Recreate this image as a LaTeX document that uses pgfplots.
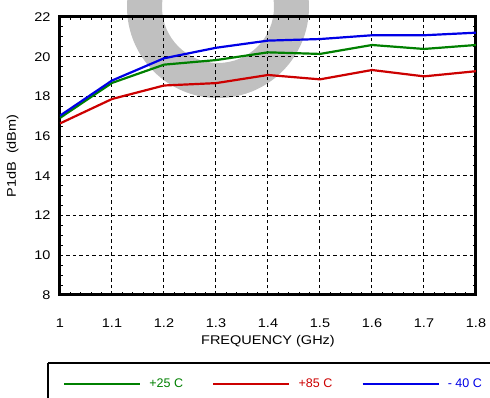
\documentclass[border=0pt]{standalone}
\usepackage{pgfplots}
\pgfplotsset{compat=1.18}
\usepackage{fontspec}
\setmainfont{Liberation Sans}
\newfontfamily\axfont{Liberation Sans}[FakeStretch=1.15]
\definecolor{cg}{RGB}{0,128,0}
\definecolor{cr}{RGB}{204,0,0}
\definecolor{cb}{RGB}{0,0,230}
\definecolor{wm}{RGB}{192,192,192}
\begin{document}
\begin{tikzpicture}[x=1pt,y=1pt]
\fill[wm, even odd rule] (218,391) circle[radius=91] (218,391) circle[radius=56];
\begin{axis}[
 at={(60pt,103pt)}, anchor=south west,
 scale only axis, width=416pt, height=278pt,
 xmin=1, xmax=1.8, ymin=8, ymax=22,
 xtick={1,1.1,1.2,1.3,1.4,1.5,1.6,1.7,1.8},
 ytick={8,10,12,14,16,18,20,22},
 minor x tick num=4, minor y tick num=3,
 grid=major,
 major grid style={black, line width=1pt, dash pattern=on 3.5pt off 3pt},
 axis line style={line width=3pt},
 tick style={black, line width=1pt},
 minor tick length=3pt, major tick length=0pt,
 tick align=inside,
 font=\axfont\fontsize{12.6}{15}\selectfont,
 /pgf/number format/assume math mode=true,
 xticklabel style={yshift=-20pt},
 yticklabel style={xshift=-6pt},
 xlabel={FREQUENCY (GHz)}, ylabel={P1dB\ \ (dBm)},
 xlabel style={yshift=-1pt},
 ylabel style={yshift=9pt},
 legend columns=3,
 legend style={at={(0.0072,-0.3201)}, anchor=west, draw=none, fill=none,
   inner sep=0pt, column sep=8pt, nodes={inner sep=0pt},
   font=\fontsize{12.5}{15}\selectfont},
 legend image code/.code={\draw[#1] (0pt,0pt) -- (76pt,0pt);},
]
\addplot[cg, line width=2.2pt] coordinates {(1,16.92)(1.1,18.68)(1.2,19.6)(1.3,19.83)(1.4,20.22)(1.5,20.14)(1.6,20.59)(1.7,20.39)(1.8,20.59)};
\addlegendentry{\textcolor{cg}{\makebox[55pt][l]{+25 C}}}
\addplot[cr, line width=2.2pt] coordinates {(1,16.64)(1.1,17.87)(1.2,18.55)(1.3,18.67)(1.4,19.08)(1.5,18.86)(1.6,19.33)(1.7,19.01)(1.8,19.27)};
\addlegendentry{\textcolor{cr}{\makebox[55pt][l]{+85 C}}}
\addplot[cb, line width=2.2pt] coordinates {(1,17.03)(1.1,18.8)(1.2,19.92)(1.3,20.45)(1.4,20.81)(1.5,20.89)(1.6,21.08)(1.7,21.08)(1.8,21.21)};
\addlegendentry{\textcolor{cb}{\makebox[55pt][l]{- 40 C}}}
\end{axis}
\draw[line width=1.5pt] (48,35) -- (48,-10) (48,35) -- (500,35);
\pgfresetboundingbox
\path[use as bounding box] (0,0) rectangle (490,398);
\end{tikzpicture}
\end{document}
